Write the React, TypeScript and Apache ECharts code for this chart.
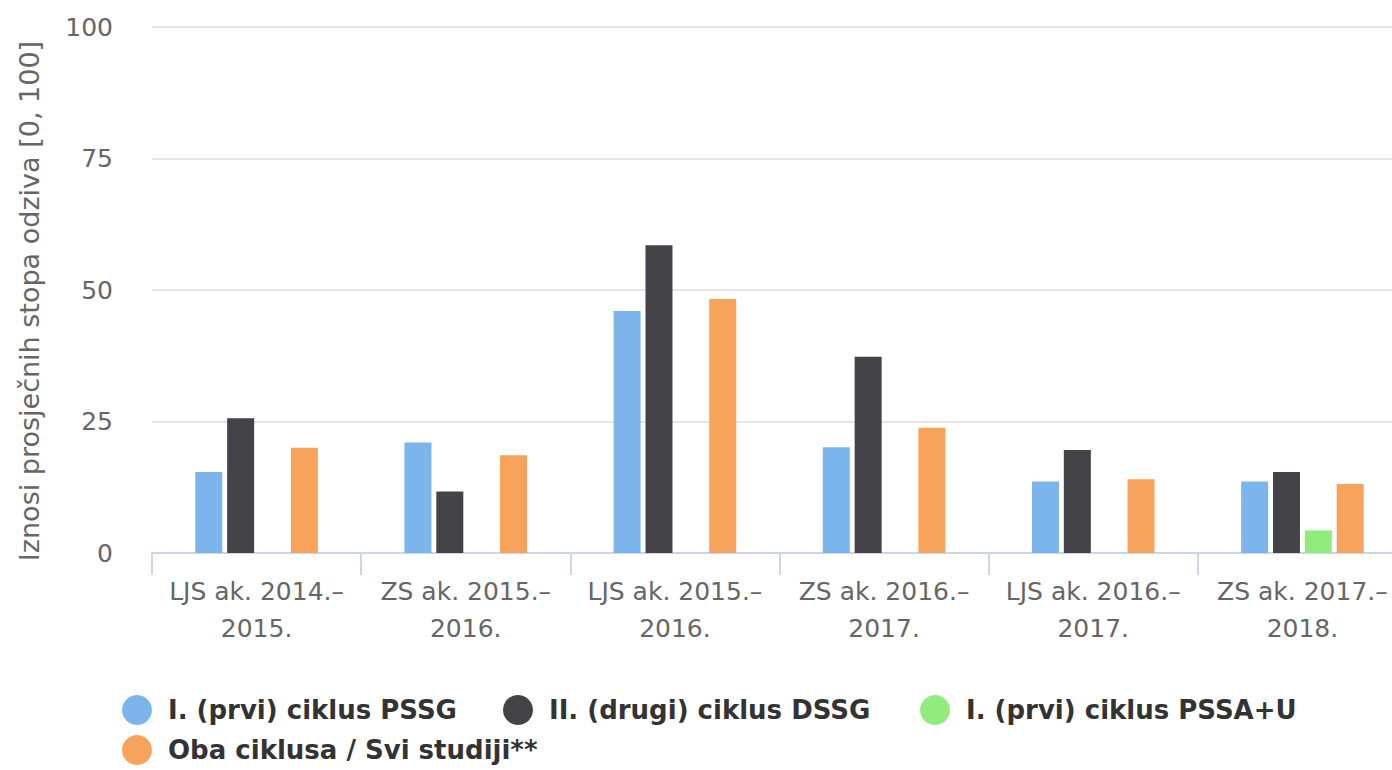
import React, { useEffect, useRef } from "react";
import * as echarts from "echarts";

const categories = [
  "LJS ak. 2014.–\n2015.",
  "ZS ak. 2015.–\n2016.",
  "LJS ak. 2015.–\n2016.",
  "ZS ak. 2016.–\n2017.",
  "LJS ak. 2016.–\n2017.",
  "ZS ak. 2017.–\n2018.",
];
const seriesNames = [
  "I. (prvi) ciklus PSSG",
  "II. (drugi) ciklus DSSG",
  "I. (prvi) ciklus PSSA+U",
  "Oba ciklusa / Svi studiji**",
];
const pssg = [15.4, 21.0, 46.0, 20.1, 13.6, 13.6];
const dssg = [25.6, 11.7, 58.5, 37.3, 19.6, 15.4];
const pssau = [null, null, null, null, null, 4.3];
const oba = [20.0, 18.6, 48.3, 23.8, 14.0, 13.1];
const colors = ["#7cb5ec", "#434348", "#90ed7d", "#f7a35c"];
const yTicks = [0, 25, 50, 75, 100];

const FONT = "DejaVu Sans";

export default function App() {
  const ref = useRef<HTMLDivElement>(null);
  useEffect(() => {
    const chart = echarts.init(ref.current!, undefined, { renderer: "svg" });
    const legendAt = (name: string, left: number, top: number) => ({
      icon: "circle",
      itemWidth: 30,
      itemHeight: 30,
      itemGap: 42,
      orient: "horizontal",
      left,
      top,
      padding: 0,
      data: [name],
      textStyle: {
        fontFamily: FONT,
        fontSize: 26,
        fontWeight: "bold",
        color: "#333333",
        padding: [0, 0, 0, 11],
      },
    });
    chart.setOption({
      animation: false,
      color: colors,
      textStyle: { fontFamily: FONT },
      grid: { left: 152, right: 0, top: 27, bottom: 217, containLabel: false },
      legend: [
        legendAt(seriesNames[0], 122, 695),
        legendAt(seriesNames[1], 503, 695),
        legendAt(seriesNames[2], 920, 695),
        legendAt(seriesNames[3], 122, 735),
      ],
      xAxis: {
        type: "category",
        data: categories,
        axisLine: { lineStyle: { color: "#ccd6eb", width: 2 } },
        axisTick: { show: true, length: 22, lineStyle: { color: "#ccd6eb", width: 2 } },
        axisLabel: {
          fontFamily: FONT,
          fontSize: 25,
          color: "#666666",
          lineHeight: 37,
          margin: 20,
          interval: 0,
        },
      },
      yAxis: {
        type: "value",
        min: 0,
        max: 100,
        interval: 25,
        name: "Iznosi prosječnih stopa odziva [0, 100]",
        nameLocation: "middle",
        nameGap: 109,
        nameTextStyle: {
          fontFamily: FONT,
          fontSize: 27,
          color: "#666666",
          padding: [0, 22, 0, 0],
        },
        axisLabel: {
          fontFamily: FONT,
          fontSize: 25,
          color: "#666666",
          margin: 39,
          formatter: (v: number) => (yTicks.includes(v) ? String(v) : ""),
        },
        splitLine: { lineStyle: { color: "#e6e6e6", width: 2 } },
        axisLine: { show: false },
        axisTick: { show: false },
      },
      series: [
        { name: seriesNames[0], type: "bar", data: pssg, barWidth: 27, barGap: "18%" },
        { name: seriesNames[1], type: "bar", data: dssg, barWidth: 27, barGap: "18%" },
        { name: seriesNames[2], type: "bar", data: pssau, barWidth: 27, barGap: "18%" },
        { name: seriesNames[3], type: "bar", data: oba, barWidth: 27, barGap: "18%" },
      ],
    });
    return () => chart.dispose();
  }, []);
  return (
    <div
      style={{
        position: "fixed",
        left: 0,
        top: 0,
        width: 1392,
        height: 770,
        overflow: "hidden",
        background: "#ffffff",
      }}
    >
      <div ref={ref} style={{ width: 1407, height: 770 }} />
    </div>
  );
}
